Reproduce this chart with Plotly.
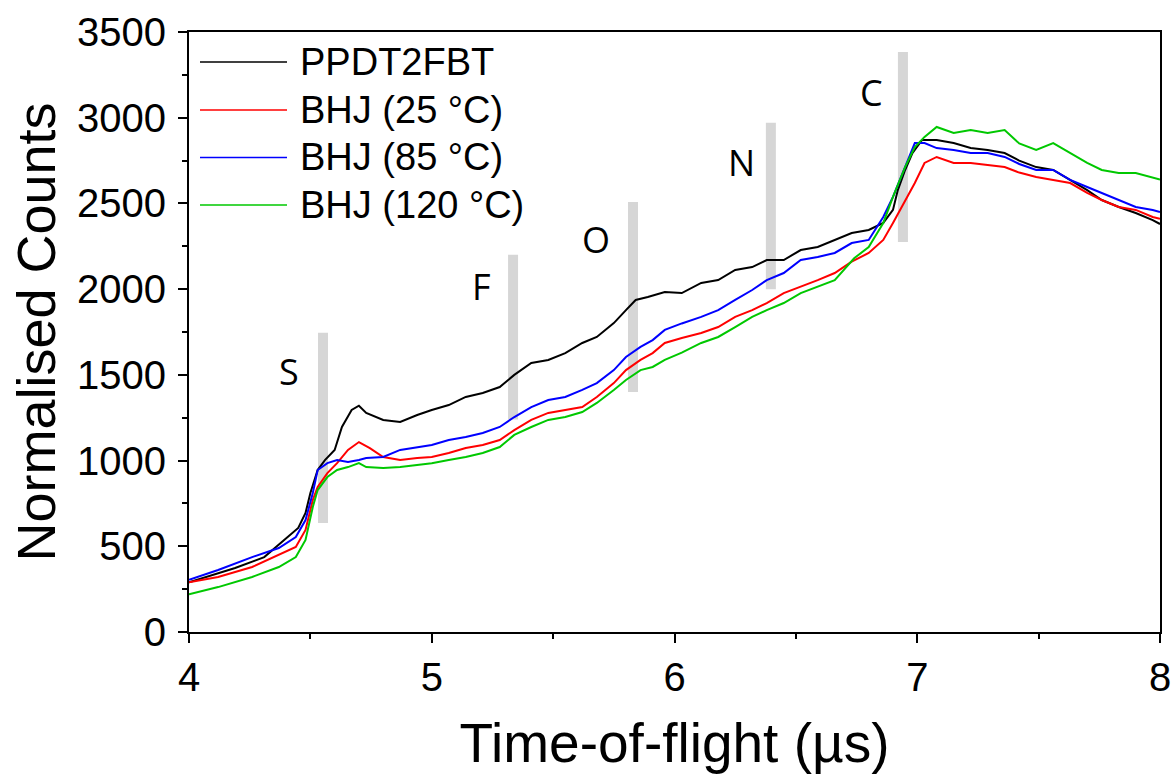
import plotly.graph_objects as go

# ---------------- data ----------------
x_ppdt = [4.00, 4.07, 4.19, 4.31, 4.40, 4.45, 4.48, 4.50, 4.53, 4.56, 4.60, 4.63, 4.67, 4.70, 4.73,
          4.80, 4.87, 4.94, 5.00, 5.07, 5.14, 5.21, 5.28, 5.34, 5.41, 5.48, 5.55, 5.62, 5.68, 5.75,
          5.80, 5.84, 5.89, 5.96, 6.03, 6.11, 6.18, 6.25, 6.32, 6.38, 6.45, 6.52, 6.59, 6.66, 6.73,
          6.80, 6.86, 6.90, 6.92, 6.95, 6.98, 7.02, 7.08, 7.15, 7.22, 7.29, 7.36, 7.42, 7.49, 7.56,
          7.63, 7.70, 7.76, 7.83, 7.90, 7.97, 8.00]
y_ppdt = [290, 321, 373, 437, 548, 607, 694, 811, 945, 1003, 1062, 1196, 1295, 1320, 1278,
          1237, 1225, 1266, 1295, 1324, 1371, 1394, 1429, 1500, 1569, 1587, 1627, 1686, 1721, 1802,
          1878, 1937, 1954, 1983, 1977, 2036, 2053, 2112, 2129, 2170, 2170, 2228, 2246, 2287, 2327,
          2345, 2386, 2462, 2578, 2695, 2794, 2870, 2870, 2852, 2823, 2812, 2794, 2750, 2712, 2695,
          2637, 2578, 2520, 2479, 2444, 2403, 2380]

x_bhj25 = [4.00, 4.12, 4.26, 4.37, 4.44, 4.48, 4.51, 4.53, 4.57, 4.61, 4.655, 4.70, 4.745, 4.80,
           4.87, 4.94, 5.00, 5.07, 5.14, 5.21, 5.28, 5.34, 5.41, 5.48, 5.55, 5.62, 5.68, 5.75, 5.80,
           5.86, 5.91, 5.96, 6.03, 6.11, 6.18, 6.25, 6.32, 6.38, 6.45, 6.52, 6.59, 6.66, 6.73, 6.80,
           6.86, 6.90, 6.95, 6.99, 7.03, 7.08, 7.15, 7.22, 7.29, 7.36, 7.42, 7.49, 7.56, 7.63, 7.70,
           7.76, 7.83, 7.90, 7.97, 8.00]
y_bhj25 = [290, 321, 379, 449, 496, 595, 770, 846, 927, 985, 1062, 1108, 1073, 1021,
           1003, 1015, 1021, 1044, 1073, 1091, 1120, 1178, 1237, 1278, 1295, 1312, 1371, 1452, 1528,
           1587, 1627, 1686, 1715, 1744, 1779, 1838, 1878, 1919, 1977, 2013, 2053, 2094, 2160, 2211,
           2287, 2386, 2520, 2619, 2736, 2771, 2736, 2736, 2724, 2712, 2680, 2654, 2637, 2619, 2561,
           2520, 2479, 2462, 2421, 2410]

x_bhj85 = [4.00, 4.12, 4.26, 4.37, 4.44, 4.48, 4.51, 4.53, 4.57, 4.61, 4.655, 4.70, 4.73, 4.80,
           4.87, 4.94, 5.00, 5.07, 5.14, 5.21, 5.28, 5.34, 5.41, 5.48, 5.55, 5.62, 5.68, 5.75, 5.80,
           5.86, 5.91, 5.96, 6.03, 6.11, 6.18, 6.25, 6.32, 6.38, 6.45, 6.52, 6.59, 6.66, 6.73, 6.80,
           6.86, 6.90, 6.95, 6.99, 7.03, 7.08, 7.15, 7.22, 7.29, 7.36, 7.42, 7.49, 7.56, 7.63, 7.70,
           7.76, 7.83, 7.90, 7.97, 8.00]
y_bhj85 = [305, 362, 437, 490, 554, 653, 811, 945, 985, 1003, 992, 1003, 1015, 1021,
           1062, 1079, 1091, 1120, 1138, 1161, 1196, 1254, 1312, 1353, 1371, 1412, 1452, 1528, 1604,
           1663, 1703, 1762, 1800, 1838, 1878, 1937, 1995, 2053, 2094, 2170, 2188, 2211, 2269, 2287,
           2421, 2538, 2712, 2852, 2852, 2823, 2812, 2794, 2794, 2771, 2730, 2695, 2695, 2637, 2596,
           2561, 2520, 2479, 2462, 2450]

x_bhj120 = [4.00, 4.12, 4.26, 4.37, 4.44, 4.48, 4.51, 4.53, 4.57, 4.61, 4.655, 4.70, 4.73, 4.80,
            4.87, 4.94, 5.00, 5.07, 5.14, 5.21, 5.28, 5.34, 5.41, 5.48, 5.55, 5.62, 5.68, 5.75, 5.80,
            5.86, 5.91, 5.96, 6.03, 6.11, 6.18, 6.25, 6.32, 6.38, 6.45, 6.52, 6.59, 6.66, 6.74, 6.80,
            6.86, 6.90, 6.95, 6.99, 7.03, 7.08, 7.15, 7.22, 7.29, 7.36, 7.42, 7.49, 7.56, 7.63, 7.70,
            7.76, 7.83, 7.90, 7.97, 8.00]
y_bhj120 = [220, 262, 321, 379, 437, 537, 729, 828, 904, 945, 962, 985, 962, 956,
            962, 974, 985, 1003, 1021, 1044, 1079, 1150, 1196, 1237, 1254, 1283, 1336, 1412, 1470,
            1528, 1546, 1587, 1630, 1686, 1721, 1779, 1838, 1878, 1919, 1977, 2013, 2053, 2180, 2246,
            2386, 2538, 2712, 2829, 2888, 2946, 2911, 2928, 2911, 2928, 2850, 2812, 2852, 2794, 2736,
            2695, 2677, 2677, 2654, 2640]

series_names = ["PPDT2FBT", "BHJ (25 °C)", "BHJ (85 °C)", "BHJ (120 °C)"]
series_colors = ["#000000", "#ff0000", "#0000ff", "#00c800"]

# element markers (gray bars) and their labels
elem_labels = ["S", "F", "O", "N", "C"]
elem_x = [4.552, 5.335, 5.829, 6.397, 6.941]
elem_lo = [636, 1240, 1400, 2000, 2275]
elem_hi = [1745, 2200, 2509, 2970, 3384]
label_x = [4.41, 5.203, 5.677, 6.274, 6.81]
label_y = [1517, 2013, 2287, 2736, 3150]

# ---------------- figure ----------------
fig = go.Figure()

bx, by = [], []
for xe, lo, hi in zip(elem_x, elem_lo, elem_hi):
    bx += [xe, xe, None]
    by += [lo, hi, None]
fig.add_trace(go.Scatter(x=bx, y=by, mode="lines", line=dict(color="#d6d6d6", width=10),
                         hoverinfo="skip", showlegend=False))

xs = [x_ppdt, x_bhj25, x_bhj85, x_bhj120]
ys = [y_ppdt, y_bhj25, y_bhj85, y_bhj120]
for xv, yv, name, col in zip(xs, ys, series_names, series_colors):
    fig.add_trace(go.Scatter(x=xv, y=yv, mode="lines", name=name,
                             line=dict(color=col, width=2), showlegend=False))

for lab, lx, ly in zip(elem_labels, label_x, label_y):
    fig.add_annotation(x=lx, y=ly, xref="x", yref="y", text=lab, showarrow=False,
                       font=dict(family="Open Sans", size=36, color="#000000"))

# manual legend (long sample lines like the reference)
L, R, T, B = 189, 14, 32, 142
W, H = 1174, 774
pw, ph = W - L - R, H - T - B
def px2paper_x(px):
    return (px - L) / pw
def px2paper_y(py):
    return (T + ph - py) / ph
rows = [62, 110, 157.5, 205]
for name, col, ry in zip(series_names, series_colors, rows):
    fig.add_shape(type="line", xref="paper", yref="paper",
                  x0=px2paper_x(200), x1=px2paper_x(287), y0=px2paper_y(ry), y1=px2paper_y(ry),
                  line=dict(color=col, width=1.5))
    fig.add_annotation(x=px2paper_x(298), y=px2paper_y(ry), xref="paper", yref="paper",
                       text=name, showarrow=False, xanchor="left", yanchor="middle",
                       font=dict(family="Liberation Sans, Arial", size=38, color="#000000"))

fig.update_layout(
    width=W, height=H,
    margin=dict(l=L, r=R, t=T, b=B, pad=0, autoexpand=False),
    paper_bgcolor="white", plot_bgcolor="white",
    showlegend=False,
    font=dict(family="Liberation Sans, Arial", color="#000000"),
)
fig.update_xaxes(
    automargin=False,
    range=[4, 8], tickmode="linear", tick0=4, dtick=1,
    ticks="outside", ticklen=9, tickwidth=2, tickcolor="#000000",
    minor=dict(ticks="outside", dtick=0.5, ticklen=5, tickwidth=2, tickcolor="#000000"),
    showline=True, linewidth=2, linecolor="#000000", mirror=True,
    showgrid=False, zeroline=False,
    tickfont=dict(family="Liberation Sans, Arial", size=40),
    title=dict(text="Time-of-flight (µs)", standoff=26,
               font=dict(family="Liberation Sans, Arial", size=55)),
)
fig.update_yaxes(
    automargin=False,
    range=[0, 3500], tickmode="linear", tick0=0, dtick=500,
    ticks="outside", ticklen=9, tickwidth=2, tickcolor="#000000",
    minor=dict(ticks="outside", dtick=250, ticklen=5, tickwidth=2, tickcolor="#000000"),
    showline=True, linewidth=2, linecolor="#000000", mirror=True,
    showgrid=False, zeroline=False,
    ticklabelstandoff=4,
    tickfont=dict(family="Liberation Sans, Arial", size=40),
    title=dict(text="Normalised Counts", standoff=4,
               font=dict(family="Liberation Sans, Arial", size=54)),
)

fig.write_html("out.html")
